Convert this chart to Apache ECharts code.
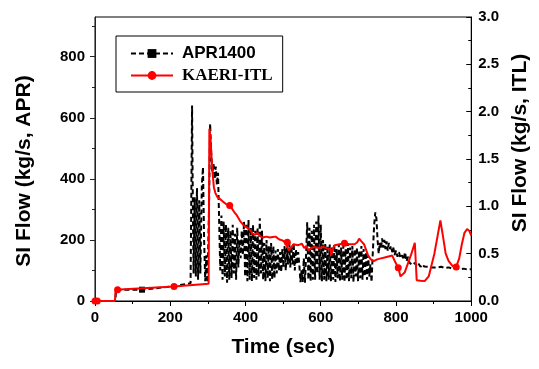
<!DOCTYPE html>
<html><head><meta charset="utf-8">
<script src="https://cdn.jsdelivr.net/npm/echarts@6/dist/echarts.min.js"></script>
<style>html,body{margin:0;padding:0;background:#fff}#c{width:539px;height:369px}</style>
</head><body><div id="c"></div>
<script>
const aprTime = [0,54,56,125,200,254,
256,258,260,262,265,268,271,274,277,280,284,287,290,293,296,299,303,306,309,312,315,318,321,324,327,330,333,336,339,342,345,348,351,354,357,360,363,366,369,372,375,378,381,384,387,390,393,396,399,402,405,408,411,414,417,420,423,426,429,432,435,438,441,444,447,450,453,456,459,462,465,468,471,474,477,480,483,486,489,492,495,498,501,504,507,510,513,516,519,522,525,528,531,534,537,540,543,546,549,552,555,558,561,564,567,570,573,576,579,582,585,588,591,594,597,600,603,606,609,612,615,618,621,624,627,630,633,636,639,642,645,648,651,654,657,660,663,666,669,672,675,678,681,684,687,690,693,696,699,702,705,708,711,714,717,720,723,726,729,732,735,738,742,745,748,751,754,757,760,763,766,769,772,775,778,781,784,787,790,793,796,800,804,808,812,816,820,824,828,832,836,840,845,850,855,860,865,870,875,880,885,890,895,900,910,920,930,940,950,960,970,980,990,1000];
const aprFlow = [0,0,37,37,47,58,
60,640,320,90,340,80,370,70,330,90,380,438,200,65,150,60,300,580,480,420,450,400,440,380,420,260,100,280,70,260,80,250,60,240,70,230,75,250,90,220,70,240,110,200,140,230,150,260,80,250,65,265,70,240,65,250,75,230,70,240,80,271,90,230,70,190,65,200,75,180,65,190,70,180,75,165,90,170,100,160,95,170,110,180,100,175,120,200,110,180,120,190,100,170,120,160,120,62,100,62,140,60,150,258,70,240,65,230,70,250,70,260,90,280,70,250,65,200,70,190,65,180,70,185,65,175,70,185,62,170,75,185,65,175,70,180,62,170,70,190,65,175,75,180,62,170,80,175,65,165,75,180,70,170,80,160,70,150,80,120,62,150,250,290,270,200,155,190,170,205,175,200,170,195,165,190,170,180,160,175,150,165,145,160,140,150,135,160,130,145,125,130,118,125,115,122,112,120,113,118,112,116,110,115,110,112,108,110,106,108,104,106,103,104];
const itlTime = [0,6,53,55,60,210,302,304,307,310,313,316,320,325,330,340,350,358,365,370,376,385,395,402,410,419,425,432,440,446,455,465,472,480,490,498,506,511,515,520,528,540,550,556,562,567,575,584,595,607,619,625,628,632,637,650,663,675,690,697,702,708,715,720,726,733,741,750,760,770,780,790,797,806,812,815,823,832,841,850,855,865,876,887,902,912,918,925,932,940,950,960,968,975,982,989,995,1000];
const itlFlow = [0,0,0,0.118,0.12,0.153,0.182,1.82,1.72,1.5,1.33,1.2,1.14,1.1,1.08,1.05,1.02,1.01,0.97,0.94,0.91,0.85,0.8,0.78,0.76,0.71,0.7,0.72,0.68,0.67,0.68,0.67,0.675,0.68,0.65,0.64,0.62,0.62,0.535,0.55,0.6,0.59,0.605,0.56,0.58,0.535,0.56,0.57,0.56,0.57,0.553,0.55,0.48,0.55,0.59,0.6,0.61,0.6,0.6,0.62,0.658,0.63,0.6,0.58,0.48,0.44,0.42,0.44,0.45,0.46,0.47,0.48,0.42,0.35,0.26,0.25,0.3,0.4,0.5,0.615,0.22,0.215,0.21,0.26,0.5,0.72,0.85,0.68,0.5,0.42,0.37,0.36,0.45,0.6,0.72,0.76,0.74,0.69];
const aprMarkerTimes = [125];
const itlMarkerTimes = [0,6,60,210,358,511,663,806,960];
const leftTicks = [0,200,400,600,800];
const leftMinorTicks = [100,300,500,700,900];
const seriesNames = ['APR1400','KAERI-ITL'];

const FONT = 'Liberation Sans, Arial, sans-serif';
function build(ts, vs, marks, sym){
  return ts.map((t,i)=> marks.indexOf(t)>=0 ? {value:[t,vs[i]], symbol:sym} : {value:[t,vs[i]], symbol:'none'});
}
const chart = echarts.init(document.getElementById('c'), null, {renderer:'canvas'});
const lbl = {color:'#000', fontSize:15, fontWeight:'bold', fontFamily:FONT};
const ttl = {color:'#000', fontSize:21, fontWeight:'bold', fontFamily:FONT};
chart.setOption({
  animation:false,
  backgroundColor:'#fff',
  grid:{left:95, right:60, top:17, bottom:68, show:true, borderColor:'#000', borderWidth:1, backgroundColor:'transparent'},
  legend:{
    orient:'vertical', left:116, top:36, padding:[9,10,8,14], itemGap:5,
    itemWidth:42, itemHeight:11, borderColor:'#000', borderWidth:1, backgroundColor:'#fff',
    data:[
      {name:seriesNames[0], textStyle:{color:'#000', fontSize:17, fontWeight:'bold', fontFamily:FONT, padding:[0,0,0,4]}},
      {name:seriesNames[1], textStyle:{color:'#000', fontSize:17, fontWeight:'bold', fontFamily:'Liberation Serif, Times New Roman, serif', padding:[0,0,0,4]}}
    ]
  },
  xAxis:{
    type:'value', min:0, max:1000, interval:200,
    name:'Time (sec)', nameLocation:'middle', nameGap:36, nameTextStyle:ttl,
    axisLine:{onZero:false, lineStyle:{color:'#000', width:1}},
    axisTick:{length:5, lineStyle:{color:'#000'}},
    minorTick:{show:true, splitNumber:2, length:3, lineStyle:{color:'#000'}},
    axisLabel:Object.assign({margin:9, formatter:v=>String(v)}, lbl),
    splitLine:{show:false}
  },
  yAxis:[
    {type:'value', position:'left', min:0, max:930,
     name:'SI Flow (kg/s, APR)', nameLocation:'middle', nameGap:60,
     nameTextStyle:Object.assign({padding:[0,24,0,0]}, ttl),
     axisLine:{show:true, onZero:false, lineStyle:{color:'#222', width:1}},
     axisTick:{show:true, length:5, customValues:leftTicks, lineStyle:{color:'#222'}},
     axisLabel:Object.assign({margin:10, customValues:leftTicks, formatter:v=>String(v)}, lbl),
     splitLine:{show:false}},
    {type:'value', position:'right', min:0, max:3, interval:0.5,
     name:'SI Flow (kg/s, ITL)', nameLocation:'middle', nameGap:32,
     nameTextStyle:Object.assign({padding:[0,0,0,32]}, ttl),
     axisLine:{show:true, onZero:false, lineStyle:{color:'#000', width:1}},
     axisTick:{show:true, inside:true, length:5, lineStyle:{color:'#000'}},
     minorTick:{show:true, splitNumber:2, length:3, lineStyle:{color:'#000'}},
     axisLabel:Object.assign({margin:7, formatter:v=>v.toFixed(1)}, lbl),
     splitLine:{show:false}},
    {type:'value', position:'left', min:0, max:930,
     axisLine:{show:false, onZero:false},
     axisTick:{show:true, length:3, customValues:leftMinorTicks, lineStyle:{color:'#222'}},
     axisLabel:{show:false},
     splitLine:{show:false}}
  ],
  series:[
    {name:seriesNames[0], type:'line', yAxisIndex:0, symbol:'rect', symbolSize:6, showSymbol:true,
     lineStyle:{color:'#000', width:2, type:[5,3]}, itemStyle:{color:'#000'},
     data:build(aprTime, aprFlow, aprMarkerTimes, 'rect'), z:2},
    {name:seriesNames[1], type:'line', yAxisIndex:1, symbol:'circle', symbolSize:7, showSymbol:true,
     lineStyle:{color:'#ff0000', width:2}, itemStyle:{color:'#ff0000'},
     data:build(itlTime, itlFlow, itlMarkerTimes, 'circle'), z:3}
  ]
});
</script></body></html>
